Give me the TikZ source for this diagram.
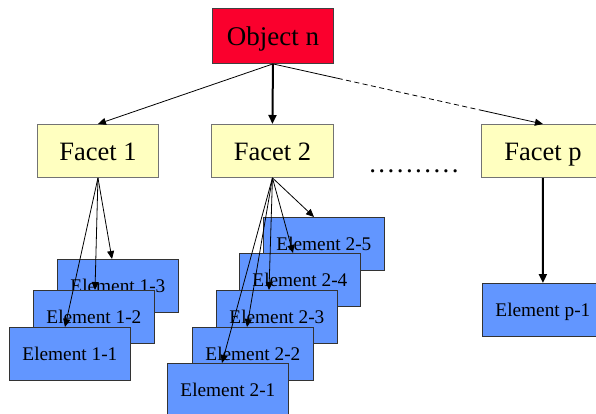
\documentclass[tikz,border=0pt]{standalone}
\usepackage{fontspec}
\setmainfont{Liberation Serif}
\usetikzlibrary{arrows.meta,calc}
\definecolor{objred}{RGB}{250,0,45}
\definecolor{facetyellow}{RGB}{255,255,192}
\definecolor{elemblue}{RGB}{98,150,255}
\tikzset{
  objbox/.style={draw=black!75,line width=0.9pt,fill=objred,minimum width=121pt,minimum height=55pt,anchor=north west,inner sep=0pt,text height=21pt,text depth=2pt,font=\fontsize{27}{29}\selectfont},
  facetbox/.style={draw=black!55,line width=0.9pt,fill=facetyellow,minimum width=122pt,minimum height=53pt,anchor=north west,inner sep=0pt,text height=21pt,text depth=2pt,font=\fontsize{26.5}{28}\selectfont},
  elembox/.style={draw=black!80,line width=0.8pt,fill=elemblue,minimum width=121pt,minimum height=53pt,anchor=north west,inner sep=0pt,text height=16pt,text depth=2pt,font=\fontsize{19.3}{21}\selectfont},
  thinarrow/.style={line width=0.8pt,-{Triangle[length=8pt,width=7pt]}},
  thickarrow/.style={line width=2pt,-{Triangle[length=9pt,width=8pt]}},
}
\begin{document}
\begin{tikzpicture}[x=1pt,y=-1pt]
\useasboundingbox (0,0) rectangle (596,414);
% top
\node[objbox] (obj) at (212,8) {Object n};
% facets
\node[facetbox,minimum width=121pt] (f1) at (37,124) {Facet 1};
\node[facetbox] (f2) at (211,124) {Facet 2};
\node[facetbox,minimum width=123pt] (fp) at (481,124) {Facet p};
\node[font=\fontsize{27}{29}\selectfont\addfontfeature{LetterSpace=9},anchor=center,inner sep=0pt] (dots) at (414,171) {..........};
% elements of facet 1 (back to front)
\node[elembox] (e13) at (57,259) {Element 1-3};
\node[elembox] (e12) at (33,290) {Element 1-2};
\node[elembox] (e11) at (9,327) {Element 1-1};
% elements of facet 2 (back to front)
\node[elembox] (e25) at (263,217) {Element 2-5};
\node[elembox] (e24) at (239,253) {Element 2-4};
\node[elembox] (e23) at (216,290) {Element 2-3};
\node[elembox] (e22) at (192,327) {Element 2-2};
\node[elembox] (e21) at (167,363) {Element 2-1};
% element of facet p
\node[elembox] (ep1) at (482,283) {Element p-1};
% connectors from object
\draw[thinarrow] (obj.south) -- (f1.north);
\draw[thickarrow] (obj.south) -- (f2.north);
\coordinate (da) at ($(obj.south)!0.24!(fp.north)$);
\coordinate (db) at ($(obj.south)!0.77!(fp.north)$);
\draw[line width=0.8pt] (obj.south) -- (da);
\draw[line width=0.8pt,dash pattern=on 5pt off 3.5pt] (da) -- (db);
\draw[thinarrow] (db) -- (fp.north);
% connectors facet 1
\draw[thinarrow] (f1.south) -- ([xshift=55pt]e13.north west);
\draw[thinarrow] (f1.south) -- ([xshift=62pt]e12.north west);
\draw[thinarrow] (f1.south) -- ([xshift=56pt]e11.north west);
% connectors facet 2
\draw[thinarrow] (f2.south) -- ([xshift=51pt]e25.north west);
\draw[thinarrow] (f2.south) -- ([xshift=54pt]e24.north west);
\draw[thinarrow] (f2.south) -- ([xshift=53pt]e23.north west);
\draw[thinarrow] (f2.south) -- ([xshift=55pt]e22.north west);
\draw[thinarrow] (f2.south) -- ([xshift=55pt]e21.north west);
% connector facet p
\draw[thickarrow] (fp.south) -- (ep1.north);
\end{tikzpicture}
\end{document}
